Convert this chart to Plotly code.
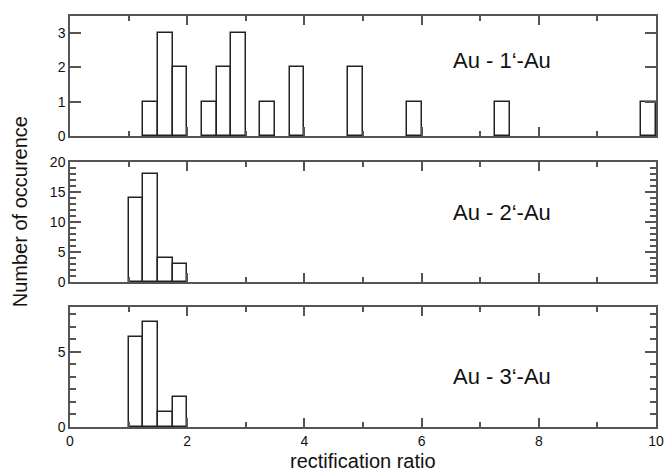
import plotly.graph_objects as go

bin_width = 0.25

# Panel 1: Au - 1'-Au
p1_left = [1.25, 1.5, 1.75, 2.25, 2.5, 2.75, 3.25, 3.75, 4.75, 5.75, 7.25, 9.75]
p1_count = [1, 3, 2, 1, 2, 3, 1, 2, 2, 1, 1, 1]

# Panel 2: Au - 2'-Au
p2_left = [1.0, 1.25, 1.5, 1.75]
p2_count = [14, 18, 4, 3]

# Panel 3: Au - 3'-Au
p3_left = [1.0, 1.25, 1.5, 1.75]
p3_count = [6, 7, 1, 2]

labels = ["Au - 1\u2018-Au", "Au - 2\u2018-Au", "Au - 3\u2018-Au"]
x_ticks = [0, 2, 4, 6, 8, 10]

FONT = "Liberation Sans, Arial, Helvetica"

fig = go.Figure()
panels = [(p1_left, p1_count), (p2_left, p2_count), (p3_left, p3_count)]
axnames = ["", "2", "3"]
for (lefts, counts), an in zip(panels, axnames):
    fig.add_trace(go.Bar(
        x=[l + bin_width / 2 for l in lefts], y=counts, width=bin_width,
        marker=dict(color="white", line=dict(color="#222", width=1.5)),
        xaxis="x" + an, yaxis="y" + an, showlegend=False, hoverinfo="skip"))

axis_line = dict(showline=True, linecolor="#555", linewidth=1.5, mirror="allticks",
                 showgrid=False, zeroline=False, ticks="inside", tickcolor="#555",
                 tickwidth=1.5, automargin=False,
                 tickfont=dict(family=FONT, size=14, color="#111"))

domains = [[0.708, 1.0], [0.3528, 0.6448], [0.0, 0.292]]
yranges = [[0, 3.5], [0, 20], [0, 8]]
ydticks = [1, 5, 5]
yminor = [None, 1, 5 / 6]

layout = dict(
    width=667, height=475, paper_bgcolor="white", plot_bgcolor="white",
    margin=dict(l=70, r=11, t=16, b=48), bargap=0,
    font=dict(family=FONT, color="#111"),
)
for i, an in enumerate(axnames):
    xa = dict(axis_line, range=[0, 10], tickvals=x_ticks, ticklen=9,
              anchor="y" + an,
              minor=dict(dtick=1, ticks="inside", ticklen=5, tickcolor="#555", tickwidth=1.5),
              showticklabels=(i == 2))
    if i != 2:
        xa["matches"] = "x3"
    ya = dict(axis_line, range=yranges[i], domain=domains[i], dtick=ydticks[i], tick0=0,
              ticklen=11, anchor="x" + an)
    if yminor[i]:
        ya["minor"] = dict(dtick=yminor[i], tick0=0, ticks="inside", ticklen=6,
                           tickcolor="#555", tickwidth=1.5)
    layout["xaxis" + an] = xa
    layout["yaxis" + an] = ya

fig.update_layout(**layout)

label_y = [0.63, 0.58, 0.42]
for i, an in enumerate(axnames):
    fig.add_annotation(text=labels[i], x=7.38, y=label_y[i],
                       xref="x" + an, yref="y" + an + " domain",
                       showarrow=False, xanchor="center", yanchor="middle",
                       font=dict(family=FONT, size=22, color="#111"))

fig.add_annotation(text="rectification ratio", x=0.5, y=-0.083,
                   xref="paper", yref="paper", xanchor="center", yanchor="middle",
                   showarrow=False, font=dict(family=FONT, size=20, color="#111"))
fig.add_annotation(text="Number of occurence", textangle=-90, x=-0.085, y=0.523,
                   xref="paper", yref="paper", xanchor="center", yanchor="middle",
                   showarrow=False, font=dict(family=FONT, size=20, color="#111"))

fig.write_html("out.html", config={"displayModeBar": False},
               post_script="document.body.style.margin='0';")
